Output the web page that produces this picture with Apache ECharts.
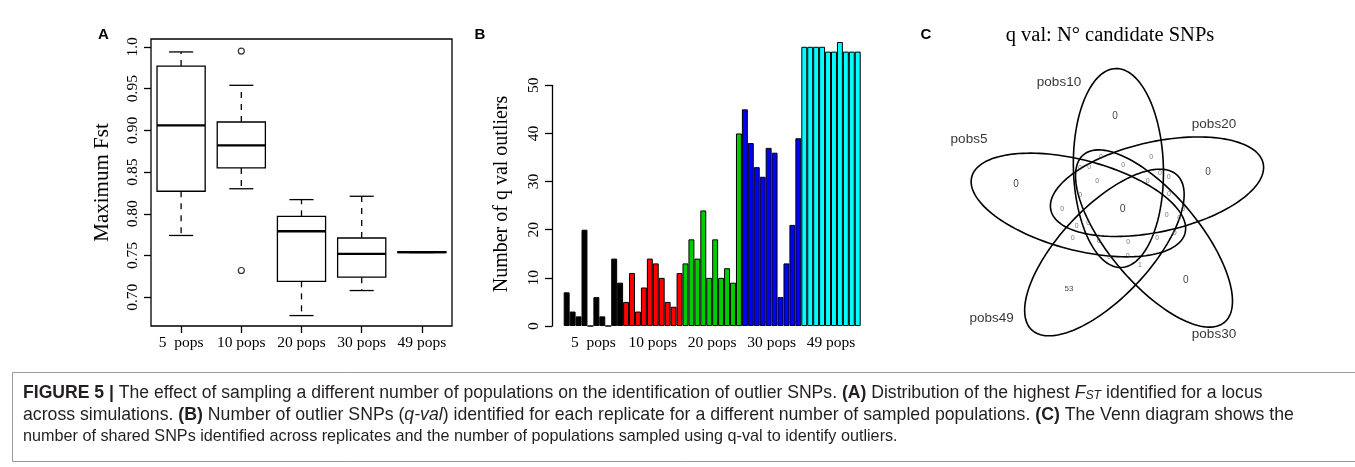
<!DOCTYPE html>
<html>
<head>
<meta charset="utf-8">
<script src="https://cdn.jsdelivr.net/npm/echarts@6.0.0/dist/echarts.min.js"></script>
<style>
  html, body { margin: 0; padding: 0; background: #fff; }
  #chart { width: 1355px; height: 467px; }
</style>
</head>
<body>
<div id="chart"></div>
<script>
// ---- data ----
const popLabels = ['5  pops', '10 pops', '20 pops', '30 pops', '49 pops'];

// panel A : maximum Fst per replicate (box summary)
const fstMin = [0.774, 0.830, 0.678, 0.708, 0.7535];
const fstQ1 = [0.827, 0.855, 0.719, 0.724, 0.7535];
const fstMedian = [0.906, 0.882, 0.779, 0.752, 0.754];
const fstQ3 = [0.977, 0.910, 0.797, 0.771, 0.7545];
const fstMax = [0.994, 0.954, 0.817, 0.821, 0.7545];
const fstOutliers = [[1, 0.995], [1, 0.732]];
const fstTicks = [0.70, 0.75, 0.80, 0.85, 0.90, 0.95, 1.00];

// panel B : number of q val outliers per replicate
const qval5 = [7, 3, 2, 20, 0, 6, 2, 0, 14, 9];
const qval10 = [5, 11, 3, 8, 14, 13, 10, 5, 4, 11];
const qval20 = [13, 18, 14, 24, 10, 18, 10, 12, 9, 40];
const qval30 = [45, 38, 33, 31, 37, 36, 6, 13, 21, 39];
const qval49 = [58, 58, 58, 58, 57, 57, 59, 57, 57, 57];
const qvalTicks = [0, 10, 20, 30, 40, 50];

// panel C : venn counts
const vennSets = ['pobs10', 'pobs20', 'pobs30', 'pobs49', 'pobs5'];
const vennCounts = [0, 0, 0, 0, 53, 0,
  0, 0, 0, 0, 0, 0, 0, 0, 0, 0, 0, 0, 0, 0, 0, 0, 0, 0, 0, 0, 0, 0, 0, 0, 1];

// ---- layout / styles ----
const groupColors = ['#000000', '#ff0000', '#00cd00', '#0000ff', '#00ffff'];
const serif = "'Liberation Serif', 'DejaVu Serif', serif";
const sans = "'Liberation Sans', Arial, sans-serif";
const capFont = "'Liberation Sans', Arial, sans-serif";

// venn ellipses (panel px units): centre, semi axes, angle in degrees
const vennShape = [
  { cx: 188.4, cy: 118.0, a: 99.5, b: 45, angle: -91.5 },
  { cx: 227.0, cy: 136.7, a: 108.7, b: 45, angle: -12.4 },
  { cx: 224.0, cy: 188.5, a: 109.5, b: 45, angle: 49.9 },
  { cx: 174.4, cy: 202.5, a: 106.2, b: 45, angle: 133.2 },
  { cx: 148.4, cy: 155.0, a: 110.3, b: 45, angle: 14.8 }
];
const vennSetLabelPos = [[129, 32.5], [284, 74], [284, 284], [61.7, 268.5], [39, 89]];
// [x, y, fontSize] for each count
const vennCountPos = [
  [185, 66, 10], [278, 122, 10], [86, 134, 10], [192.7, 159, 10.5], [139, 239, 8], [255.7, 230.7, 10],
  [171, 107.3, 7], [150, 117.7, 7], [159.3, 116.7, 7], [193.3, 115.3, 7], [221.3, 106.7, 7],
  [167.3, 131, 7], [217.7, 131, 7], [230, 123.3, 7], [238.7, 127.3, 7], [150.3, 145, 7],
  [239, 144, 7], [132.3, 159.3, 7], [253.3, 159.3, 7], [236.7, 165, 7], [249.3, 168.3, 7],
  [146.7, 176, 7], [158.3, 172.7, 7], [142.7, 187.7, 7], [169, 191.3, 7], [198.3, 192, 7],
  [227.3, 187.7, 7], [244.7, 183.3, 7], [179.3, 206.7, 7], [197.7, 206, 7], [210, 215, 7]
];

const chart = echarts.init(document.getElementById('chart'));

const boxData = popLabels.map((_, i) => [i, fstMin[i], fstQ1[i], fstMedian[i], fstQ3[i], fstMax[i]]);

const barItems = [];
[qval5, qval10, qval20, qval30, qval49].forEach((g, gi) => {
  g.forEach(v => barItems.push({ value: v, itemStyle: { color: groupColors[gi] } }));
});
const replicateIds = barItems.map((_, i) => String(i + 1));

const tickLabel = { fontFamily: serif, fontSize: 15.5, color: '#000' };
const blackLine = { color: '#000', width: 1.3 };

function renderBox(params, api) {
  const i = api.value(0);
  const mn = api.value(1), q1 = api.value(2), md = api.value(3), q3 = api.value(4), mx = api.value(5);
  const band = api.size([1, 0])[0];
  const half = band * 0.4;
  const cap = band * 0.2;
  const cx = api.coord([i, md])[0];
  const y = v => api.coord([i, v])[1];
  const solid = { stroke: '#000', lineWidth: 1.3, fill: null };
  const dashed = { stroke: '#000', lineWidth: 1.3, lineDash: [6, 6], fill: null };
  return {
    type: 'group',
    children: [
      { type: 'line', shape: { x1: cx, y1: y(q3), x2: cx, y2: y(mx) }, style: dashed },
      { type: 'line', shape: { x1: cx, y1: y(q1), x2: cx, y2: y(mn) }, style: dashed },
      { type: 'line', shape: { x1: cx - cap, y1: y(mx), x2: cx + cap, y2: y(mx) }, style: solid },
      { type: 'line', shape: { x1: cx - cap, y1: y(mn), x2: cx + cap, y2: y(mn) }, style: solid },
      { type: 'rect', shape: { x: cx - half, y: y(q3), width: half * 2, height: y(q1) - y(q3) },
        style: { fill: '#fff', stroke: '#000', lineWidth: 1.3 } },
      { type: 'line', shape: { x1: cx - half, y1: y(md), x2: cx + half, y2: y(md) },
        style: { stroke: '#000', lineWidth: 2.4 } }
    ]
  };
}

function renderEllipse(params, api) {
  const e = vennShape[params.dataIndex];
  const cx = api.value(0), cy = api.value(1);
  const t = e.angle * Math.PI / 180;
  const pts = [];
  for (let k = 0; k < 144; k++) {
    const u = k / 144 * Math.PI * 2;
    const lx = e.a * Math.cos(u), ly = e.b * Math.sin(u);
    pts.push(api.coord([cx + lx * Math.cos(t) - ly * Math.sin(t), cy + lx * Math.sin(t) + ly * Math.cos(t)]));
  }
  return { type: 'polygon', shape: { points: pts }, style: { fill: null, stroke: '#000', lineWidth: 1.6 } };
}

function capRich(size) {
  return {
    b: { fontFamily: capFont, fontSize: size, fontWeight: 'bold', color: '#231f20' },
    i: { fontFamily: capFont, fontSize: size, fontStyle: 'italic', color: '#231f20' },
    sub: { fontFamily: capFont, fontSize: size * 0.7, fontStyle: 'italic', color: '#231f20', verticalAlign: 'bottom', lineHeight: size }
  };
}
const capLines = [
  '{b|FIGURE 5 |} The effect of sampling a different number of populations on the identification of outlier SNPs. {b|(A)} Distribution of the highest {i|F}{sub|ST} identified for a locus',
  'across simulations. {b|(B)} Number of outlier SNPs ({i|q-val}) identified for each replicate for a different number of sampled populations. {b|(C)} The Venn diagram shows the',
  'number of shared SNPs identified across replicates and the number of populations sampled using q-val to identify outliers.'
];
const capY = [393, 415, 437];
const capSize = [17.6, 17.7, 16.2];

chart.setOption({
  animation: false,
  backgroundColor: '#fff',
  grid: [
    { left: 151, top: 39, width: 301, height: 287, show: true, borderColor: '#000', borderWidth: 1.3 },
    { left: 563.7, top: 85.3, width: 297, height: 240.7 },
    { left: 930, top: 50, width: 340, height: 310 }
  ],
  xAxis: [
    {
      gridIndex: 0, type: 'category', data: popLabels, boundaryGap: true,
      axisLine: { show: false },
      axisTick: { show: true, alignWithLabel: true, length: 7, lineStyle: blackLine },
      axisLabel: Object.assign({ margin: 9, interval: 0 }, tickLabel),
      splitLine: { show: false }
    },
    {
      gridIndex: 1, type: 'category', data: replicateIds, boundaryGap: true, show: false
    },
    {
      gridIndex: 1, type: 'category', data: popLabels, boundaryGap: true, position: 'bottom',
      axisLine: { show: false }, axisTick: { show: false },
      axisLabel: Object.assign({ margin: 9, interval: 0 }, tickLabel),
      splitLine: { show: false }
    },
    { gridIndex: 2, type: 'value', min: 0, max: 340, show: false }
  ],
  yAxis: [
    {
      gridIndex: 0, type: 'value', min: 0.6655, max: 1.0095,
      name: 'Maximum Fst', nameLocation: 'middle', nameGap: 38, nameRotate: 90,
      nameTextStyle: { fontFamily: serif, fontSize: 21, color: '#000' },
      axisLine: { show: false },
      axisTick: { show: true, length: 7, lineStyle: blackLine, customValues: fstTicks },
      axisLabel: Object.assign({
        rotate: 90, margin: 10, customValues: fstTicks,
        formatter: v => (v >= 0.999 ? '1.0' : v.toFixed(2))
      }, tickLabel),
      splitLine: { show: false }
    },
    {
      gridIndex: 1, type: 'value', min: 0, max: 50, interval: 10, offset: 11.7,
      axisLine: { show: true, lineStyle: blackLine },
      axisTick: { show: true, length: 7, lineStyle: blackLine, customValues: qvalTicks },
      axisLabel: Object.assign({ rotate: 90, margin: 10, customValues: qvalTicks }, tickLabel),
      splitLine: { show: false }
    },
    { gridIndex: 2, type: 'value', min: 0, max: 310, inverse: true, show: false }
  ],
  series: [
    {
      type: 'custom', xAxisIndex: 0, yAxisIndex: 0, data: boxData,
      encode: { x: 0, y: [1, 2, 3, 4, 5] }, renderItem: renderBox, z: 3
    },
    {
      type: 'scatter', xAxisIndex: 0, yAxisIndex: 0, data: fstOutliers,
      symbol: 'circle', symbolSize: 6,
      itemStyle: { color: '#fff', borderColor: '#000', borderWidth: 1.2 }, z: 4
    },
    {
      type: 'bar', xAxisIndex: 1, yAxisIndex: 1, data: barItems,
      barWidth: '100%', barCategoryGap: '0%', clip: false,
      itemStyle: { borderColor: '#000', borderWidth: 1 }
    },
    {
      type: 'custom', xAxisIndex: 3, yAxisIndex: 2,
      data: vennShape.map(e => [e.cx, e.cy]), renderItem: renderEllipse
    },
    {
      type: 'scatter', xAxisIndex: 3, yAxisIndex: 2, symbolSize: 1,
      itemStyle: { color: 'transparent' },
      data: vennSets.map((s, i) => ({ name: s, value: vennSetLabelPos[i] })),
      label: { show: true, position: 'inside', formatter: '{b}', fontFamily: sans, fontSize: 13.5, color: '#000' }
    },
    {
      type: 'scatter', xAxisIndex: 3, yAxisIndex: 2, symbolSize: 1,
      itemStyle: { color: 'transparent' },
      data: vennCounts.map((c, i) => ({
        value: [vennCountPos[i][0], vennCountPos[i][1], c],
        label: { fontSize: vennCountPos[i][2], color: vennCountPos[i][2] < 8 ? '#555' : '#111' }
      })),
      label: { show: true, position: 'inside', formatter: p => String(p.value[2]), fontFamily: sans }
    }
  ],
  graphic: [
    { type: 'text', x: 103.5, y: 35, style: { text: 'A', fontFamily: sans, fontWeight: 'bold', fontSize: 15, fill: '#000', align: 'center', verticalAlign: 'middle' } },
    { type: 'text', x: 480, y: 35, style: { text: 'B', fontFamily: sans, fontWeight: 'bold', fontSize: 15, fill: '#000', align: 'center', verticalAlign: 'middle' } },
    { type: 'text', x: 926, y: 35, style: { text: 'C', fontFamily: sans, fontWeight: 'bold', fontSize: 15, fill: '#000', align: 'center', verticalAlign: 'middle' } },
    { type: 'text', x: 1110, y: 36, style: { text: 'q val: N° candidate SNPs', fontFamily: serif, fontSize: 20.5, fill: '#000', align: 'center', verticalAlign: 'middle' } },
    { type: 'text', x: 502, y: 194, rotation: Math.PI / 2, style: { text: 'Number of q val outliers', fontFamily: serif, fontSize: 20, fill: '#000', align: 'center', verticalAlign: 'middle' } },
    { type: 'rect', shape: { x: 12.5, y: 372.5, width: 1360, height: 89 }, style: { fill: null, stroke: '#9a9a9a', lineWidth: 1 } }
  ].concat(capLines.map((t, i) => ({
    type: 'text', x: 23, y: capY[i],
    style: { text: t, align: 'left', verticalAlign: 'middle', rich: capRich(capSize[i]),
      fontFamily: capFont, fontSize: capSize[i], fill: '#231f20' }
  })))
});
</script>
</body>
</html>
